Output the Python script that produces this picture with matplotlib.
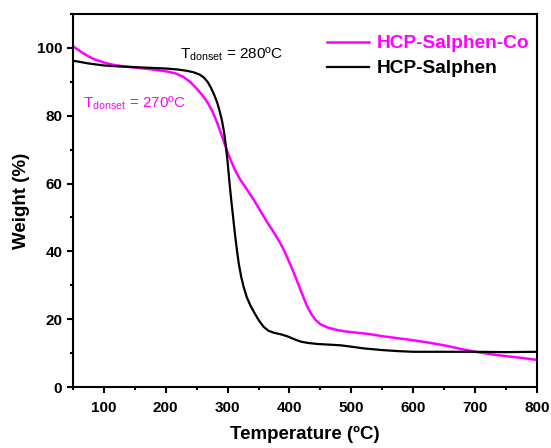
import matplotlib.pyplot as plt
from matplotlib.ticker import MultipleLocator

plt.rcParams['font.family'] = ['Liberation Sans', 'DejaVu Sans']

# HCP-Salphen-Co (magenta)
t_co = [50, 58, 66, 75, 85, 100, 115, 130, 150, 175, 200, 215, 228, 240, 250, 260, 268,
        275, 282, 288, 294, 300, 306, 312, 320, 330, 342, 355, 365, 375, 385, 392, 398,
        404, 410, 416, 422, 428, 435, 442, 450, 461, 475, 490, 510, 530, 550, 575, 600,
        625, 650, 675, 700, 725, 750, 775, 800]
w_co = [100.5, 99.5, 98.5, 97.5, 96.6, 95.7, 95.0, 94.6, 94.2, 93.7, 93.1, 92.5, 91.5,
        89.9, 88, 85.9, 83.8, 81.5, 78.5, 75.5, 72.3, 69.2, 66.5, 64, 61.3, 58.6, 55.3,
        51.3, 48.3, 45.5, 42.5, 40, 37.5, 35, 32.3, 29.5, 26.7, 24, 21.6, 19.8, 18.5,
        17.6, 16.9, 16.4, 16, 15.6, 15, 14.4, 13.8, 13.1, 12.3, 11.3, 10.4, 9.7, 9.1,
        8.6, 8]

# HCP-Salphen (black)
t_s = [50, 60, 75, 100, 125, 150, 175, 200, 220, 235, 245, 255, 262, 268, 273, 278,
       283, 287, 291, 294, 297, 300, 303, 306, 309, 312, 315, 318, 322, 326, 331, 337,
       343, 350, 358, 366, 375, 385, 396, 405, 418, 430, 445, 465, 483, 500, 520, 550,
       575, 600, 650, 700, 750, 800]
w_s = [96.2, 95.9, 95.4, 94.8, 94.5, 94.3, 94.1, 93.9, 93.6, 93.2, 92.8, 92.1, 91.2,
       89.9, 88.3, 86.3, 84, 81.5, 78.5, 75.5, 71.5, 66.5, 60.5, 55, 50, 45, 40.5, 36.5,
       32.5, 29.5, 26.5, 24, 22, 19.8, 17.8, 16.6, 16, 15.6, 15, 14.3, 13.4, 13, 12.7,
       12.5, 12.3, 11.9, 11.4, 10.9, 10.6, 10.4, 10.4, 10.4, 10.3, 10.4]

fig = plt.figure(figsize=(5.51, 4.48), dpi=100)
ax = fig.add_axes([0.132, 0.136, 0.843, 0.833])

ax.plot(t_co, w_co, color='#ff00ff', lw=1.8, label='HCP-Salphen-Co')
ax.plot(t_s, w_s, color='black', lw=1.6, label='HCP-Salphen')

ax.set_xlim(50, 800)
ax.set_ylim(0, 110)
ax.xaxis.set_major_locator(MultipleLocator(100))
ax.xaxis.set_minor_locator(MultipleLocator(50))
ax.yaxis.set_major_locator(MultipleLocator(20))
ax.yaxis.set_minor_locator(MultipleLocator(10))
ax.tick_params(which='major', direction='out', length=4, width=1.5, labelsize=11)
ax.tick_params(axis='x', which='major', pad=6)
ax.tick_params(which='minor', direction='out', length=2.5, width=1.5)
for lab in ax.get_xticklabels() + ax.get_yticklabels():
    lab.set_fontweight('bold')
for s in ax.spines.values():
    s.set_linewidth(1.5)

ax.set_xlabel('Temperature (ºC)', fontsize=13.5, fontweight='bold', labelpad=8)
ax.set_ylabel('Weight (%)', fontsize=13.5, fontweight='bold', labelpad=5)

ax.text(223, 96.8, r'T$_{\mathregular{donset}}$ = 280ºC', fontsize=11, color='black')
ax.text(66, 82.6, r'T$_{\mathregular{donset}}$ = 270ºC', fontsize=11, color='#ff00ff')

leg = ax.legend(loc='upper right', bbox_to_anchor=(1.02, 0.99), frameon=False,
                prop={'weight': 'bold', 'size': 13.8}, handlelength=2.2,
                handletextpad=0.4, labelspacing=0.4, labelcolor='linecolor')

fig.savefig('out.png', dpi=100)
